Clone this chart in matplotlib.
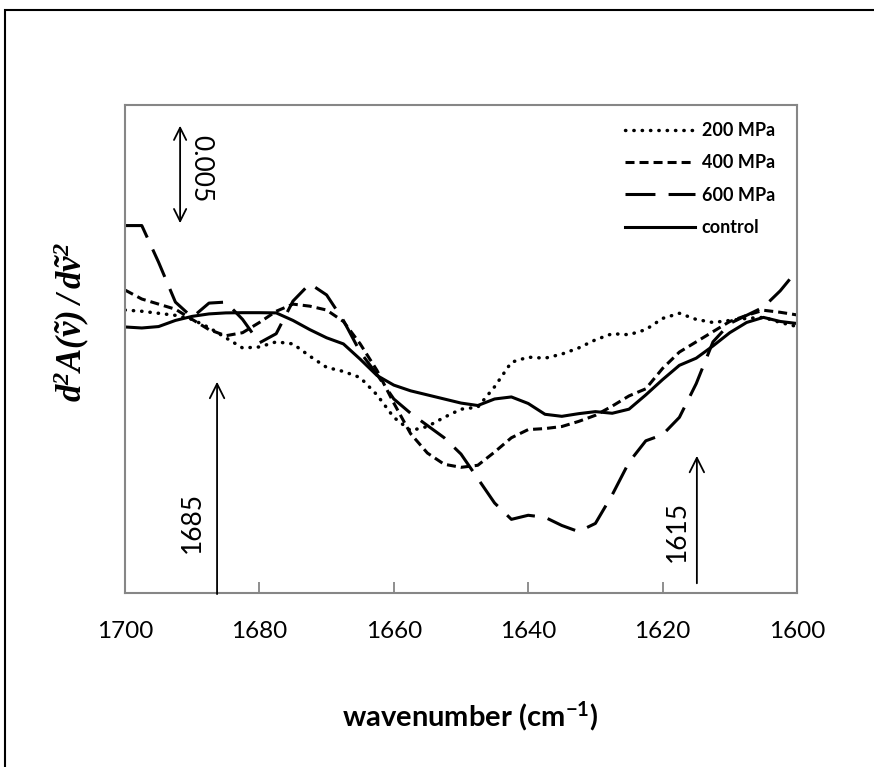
import matplotlib
matplotlib.use("Agg")
import matplotlib.pyplot as plt
from matplotlib.patches import Rectangle

plt.rcParams['font.family'] = ['Lato', 'DejaVu Sans']
plt.rcParams['mathtext.fontset'] = 'custom'
plt.rcParams['mathtext.bf'] = 'Liberation Serif:bold:italic'
plt.rcParams['mathtext.default'] = 'regular'

# wavenumber grid (cm-1), second-derivative values in units of 1e-3
wn = [1700, 1697.5, 1695, 1692.5, 1690, 1687.5, 1685, 1682.5, 1680, 1677.5,
      1675, 1672.5, 1670, 1667.5, 1665, 1662.5, 1660, 1657.5, 1655, 1652.5,
      1650, 1647.5, 1645, 1642.5, 1640, 1637.5, 1635, 1632.5, 1630, 1627.5,
      1625, 1622.5, 1620, 1617.5, 1615, 1612.5, 1610, 1607.5, 1605, 1602.5, 1600]

mpa200 = [1.96, 1.9, 1.8, 1.7, 1.5, 1.1, 0.6, 0.1, 0.15, 0.4,
          0.3, -0.3, -0.85, -1.05, -1.35, -2.2, -3.3, -3.95, -3.75, -3.3,
          -2.9, -2.8, -1.8, -0.6, -0.35, -0.4, -0.2, 0.1, 0.5, 0.8,
          0.75, 1.0, 1.55, 1.8, 1.5, 1.35, 1.45, 1.55, 1.6, 1.35, 1.15]
mpa400 = [2.94, 2.5, 2.25, 2.0, 1.5, 1.0, 0.7, 0.85, 1.35, 1.9,
          2.25, 2.15, 1.96, 1.4, 0.3, -1.0, -2.6, -4.1, -5.05, -5.6,
          -5.75, -5.65, -5.0, -4.3, -3.9, -3.85, -3.75, -3.5, -3.2, -2.75,
          -2.25, -1.9, -0.9, -0.1, 0.4, 0.9, 1.4, 1.7, 1.95, 1.85, 1.72]
mpa600 = [6.1, 6.1, 4.3, 2.35, 1.6, 2.3, 2.35, 1.5, 0.35, 0.8,
          2.4, 3.25, 2.7, 1.45, -0.1, -1.2, -2.4, -3.1, -3.7, -4.3,
          -5.1, -6.3, -7.5, -8.3, -8.1, -8.2, -8.6, -8.9, -8.5, -7.1,
          -5.5, -4.45, -4.15, -3.3, -1.65, 0.4, 1.3, 1.7, 2.1, 2.9, 3.9]
control = [1.13, 1.08, 1.15, 1.45, 1.65, 1.77, 1.82, 1.83, 1.83, 1.82,
           1.45, 1.0, 0.6, 0.3, -0.45, -1.25, -1.72, -2.0, -2.2, -2.4,
           -2.6, -2.72, -2.4, -2.3, -2.62, -3.15, -3.25, -3.12, -3.02, -3.1,
           -2.9, -2.2, -1.45, -0.75, -0.4, 0.2, 0.85, 1.35, 1.6, 1.4, 1.3]

labels = ["200 MPa", "400 MPa", "600 MPa", "control"]

W, H = 874, 767
fig = plt.figure(figsize=(W / 100, H / 100), dpi=100)
ax = fig.add_axes([125 / W, 1 - 593 / H, 672 / W, 488 / H])

lw = 2.2
kw = dict(color='black', solid_joinstyle='round', dash_joinstyle='round')
ax.plot(wn, mpa200, lw=2.5, ls=(0, (0.1, 2.3)), dash_capstyle='round', label=labels[0], **kw)
ax.plot(wn, mpa400, lw=lw, ls=(0, (2.95, 1.64)), label=labels[1], **kw)
ax.plot(wn, mpa600, lw=lw, ls=(0, (9.8, 4.3)), label=labels[2], **kw)
ax.plot(wn, control, lw=lw, ls='-', label=labels[3], **kw)

ax.set_xlim(1700, 1600)
ax.set_ylim(-11.91, 12.01)
ax.set_xticks([1700, 1680, 1660, 1640, 1620, 1600])
ax.set_yticks([])
ax.tick_params(axis='x', direction='in', length=8, width=1.3, color='#868686',
               labelsize=17.5, pad=20)
for sp in ax.spines.values():
    sp.set_color('#868686')
    sp.set_linewidth(1.5)

# scale bar
ax.annotate('', xy=(1691.8, 6.08), xytext=(1691.8, 11.13),
            arrowprops=dict(arrowstyle='<->', color='black', lw=1.3, mutation_scale=22))
ax.text(1688.8, 8.9, '0.005', rotation=270, ha='center', va='center', fontsize=19)

# band markers
ax.annotate('', xy=(1686.3, -1.42), xytext=(1686.3, -12.1),
            arrowprops=dict(arrowstyle='->', color='black', lw=1.3, mutation_scale=26),
            annotation_clip=False)
ax.text(1690.0, -8.43, '1685', rotation=90, ha='center', va='center', fontsize=19)
ax.annotate('', xy=(1614.9, -5.05), xytext=(1614.9, -11.57),
            arrowprops=dict(arrowstyle='->', color='black', lw=1.3, mutation_scale=26))
ax.text(1617.8, -8.92, '1615', rotation=90, ha='center', va='center', fontsize=19)

leg = ax.legend(loc='upper left', bbox_to_anchor=(616 / W, 1 - 113 / H),
                bbox_transform=fig.transFigure, frameon=False, borderpad=0,
                handlelength=3.9, handletextpad=0.35, labelspacing=0.85,
                prop={'weight': 'bold', 'size': 13})

fig.text(470 / W, 1 - 716 / H, 'wavenumber (cm$^{-1}$)', ha='center', va='center',
         fontsize=21, fontweight='bold')
fig.text(72 / W, 1 - 322 / H, r'$\mathbf{d^2A(\tilde{v})\,/\,d\tilde{v}^2}$',
         rotation=90, ha='center', va='center', fontsize=25)

# outer frame of the figure
fig.patches.append(Rectangle((5 / W, -0.1), 1.2, 1 - 10 / H + 0.1, transform=fig.transFigure,
                             fill=False, edgecolor='black', lw=1.5))

fig.savefig('out.png', dpi=100)
